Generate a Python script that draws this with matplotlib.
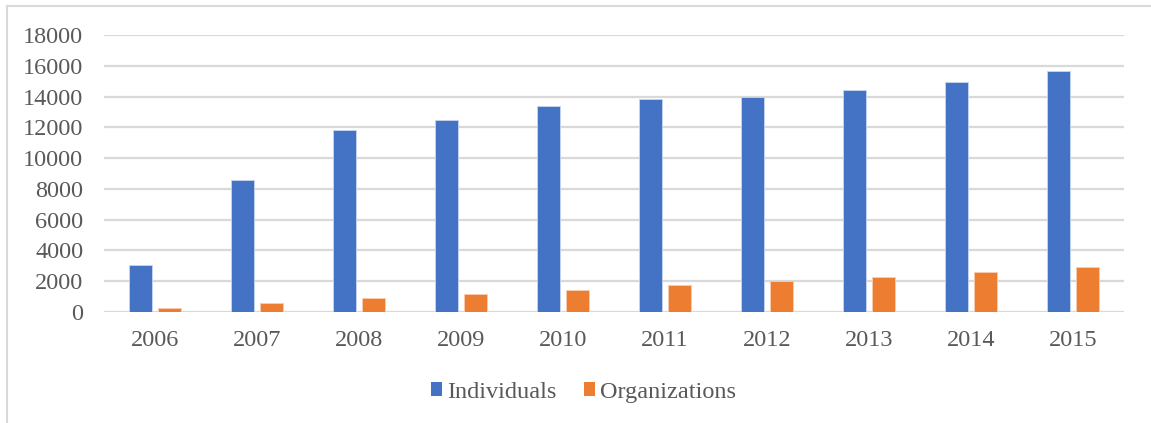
import matplotlib
matplotlib.use("Agg")
import matplotlib.pyplot as plt
from matplotlib.patches import Patch
from matplotlib.lines import Line2D
import numpy as np

years = ["2006", "2007", "2008", "2009", "2010", "2011", "2012", "2013", "2014", "2015"]
individuals = [3030, 8600, 11840, 12490, 13380, 13840, 13990, 14450, 14960, 15700]
organizations = [210, 540, 870, 1130, 1430, 1710, 1980, 2260, 2560, 2880]
yticks = [0, 2000, 4000, 6000, 8000, 10000, 12000, 14000, 16000, 18000]

BLUE = "#4472C4"
ORANGE = "#ED7D31"
TXT = "#595959"
GRID = "#D9D9D9"
FS = 17.5

plt.rcParams["font.family"] = ["Liberation Serif", "DejaVu Serif"]

W, H = 1151, 423
fig = plt.figure(figsize=(W / 100, H / 100), dpi=100)
fig.patch.set_facecolor("white")

ax = fig.add_axes([104.3 / W, 1 - 311.7 / H, (1123.7 - 104.3) / W, (311.7 - 35.3) / H])

x = np.arange(len(years))
bw = 0.225
off = 0.141
ax.bar(x - off, individuals, bw, color=BLUE, edgecolor="#C9D6EE", linewidth=0.6, zorder=3)
ax.bar(x + off, organizations, bw, color=ORANGE, edgecolor="#F7CDB0", linewidth=0.6, zorder=3)

ax.set_xlim(-0.5, len(years) - 0.5)
ax.set_ylim(0, 18000)
ax.set_yticks(yticks)
ax.set_yticklabels([str(v) for v in yticks])
ax.set_xticks(x)
ax.set_xticklabels(years)
ax.yaxis.grid(True, color=GRID, linewidth=1.6, zorder=0)
ax.set_axisbelow(True)
for s in ax.spines.values():
    s.set_visible(False)
ax.axhline(0, color=GRID, linewidth=1.8, zorder=2)
ax.tick_params(axis="both", length=0, labelsize=FS, colors=TXT)
ax.tick_params(axis="y", pad=15)
ax.tick_params(axis="x", pad=13)

handles = [Patch(facecolor=BLUE, edgecolor="none"), Patch(facecolor=ORANGE, edgecolor="none")]
leg = fig.legend(handles, ["Individuals", "Organizations"], loc="center",
                 bbox_to_anchor=(583.5 / W, 1 - 392 / H), ncol=2, frameon=False,
                 fontsize=FS, handlelength=0.47, handleheight=0.47, handletextpad=0.22,
                 columnspacing=1.1, labelcolor=TXT)

# outer chart border (top and left visible)
fig.add_artist(Line2D([6.5 / W, 6.5 / W], [0, 1 - 6 / H], transform=fig.transFigure,
                      color=GRID, linewidth=1.5))
fig.add_artist(Line2D([6.5 / W, 1], [1 - 6 / H, 1 - 6 / H], transform=fig.transFigure,
                      color=GRID, linewidth=1.5))

fig.savefig("out.png", dpi=100, facecolor="white")
